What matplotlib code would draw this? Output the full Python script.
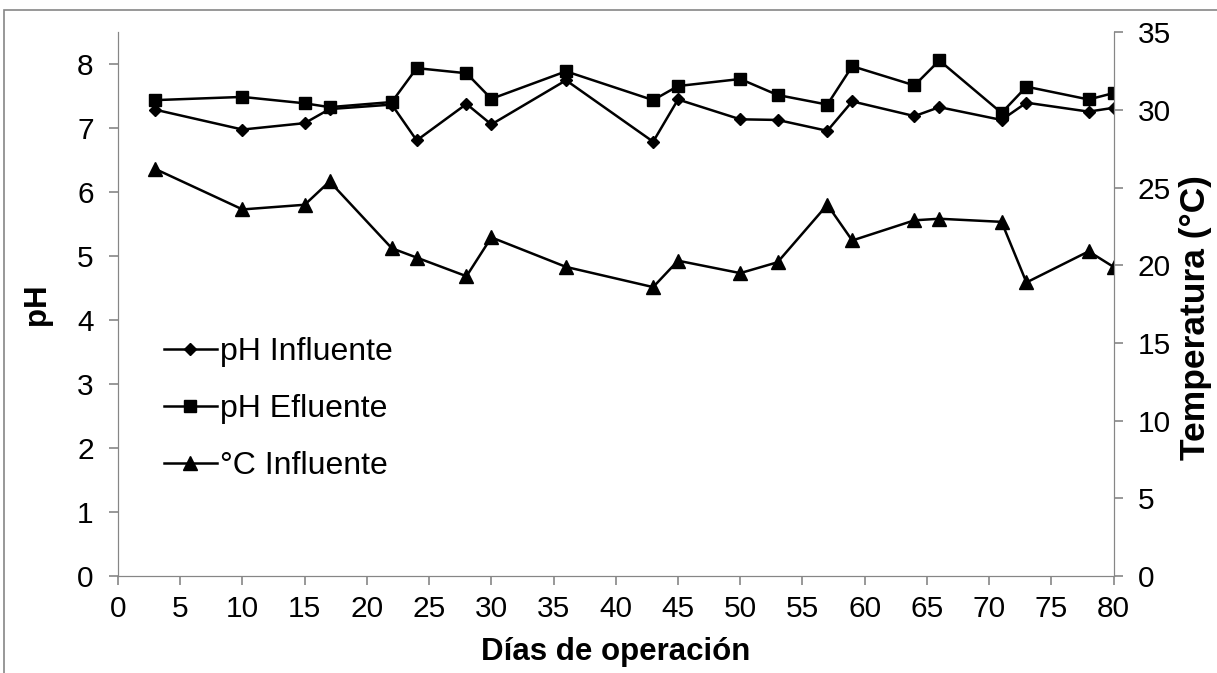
import matplotlib
matplotlib.use("Agg")
import matplotlib.pyplot as plt
from matplotlib.patches import Rectangle

plt.rcParams['font.family'] = ['Liberation Sans', 'DejaVu Sans']

# datos
dias = [3, 10, 15, 17, 22, 24, 28, 30, 36, 43, 45, 50, 53, 57, 59, 64, 66, 71, 73, 78, 80]
ph_influente = [7.29, 6.98, 7.08, 7.30, 7.37, 6.81, 7.38, 7.06, 7.75, 6.79, 7.45,
                7.14, 7.13, 6.96, 7.42, 7.19, 7.33, 7.13, 7.40, 7.26, 7.32]
ph_efluente = [7.44, 7.49, 7.39, 7.33, 7.41, 7.94, 7.86, 7.46, 7.89, 7.44, 7.66,
               7.77, 7.52, 7.37, 7.97, 7.67, 8.06, 7.24, 7.65, 7.45, 7.55]
temp_influente = [26.2, 23.6, 23.9, 25.4, 21.1, 20.5, 19.3, 21.8, 19.9, 18.6, 20.3,
                  19.5, 20.2, 23.9, 21.6, 22.9, 23.0, 22.8, 18.9, 20.9, 19.9]

gris = '#868686'
fs_tick = 21.5
fs_lab = 22.5
fs_leg = 23

fig = plt.figure(figsize=(12.17, 6.73), dpi=100)
ax = fig.add_axes([0.097, 0.144, 0.818, 0.808])
ax2 = ax.twinx()

l1, = ax.plot(dias, ph_influente, color='black', lw=1.8, marker='D', ms=6.5, label='pH Influente')
l2, = ax.plot(dias, ph_efluente, color='black', lw=1.8, marker='s', ms=8.5, label='pH Efluente')
l3, = ax2.plot(dias, temp_influente, color='black', lw=1.8, marker='^', ms=9.5, label='°C Influente')

ax.set_xlim(0, 80)
ax.set_ylim(0, 8.5)
ax2.set_ylim(0, 35)
ax.set_xticks(range(0, 81, 5))
ax.set_yticks(range(0, 9))
ax2.set_yticks(range(0, 36, 5))

for a in (ax, ax2):
    for s in a.spines.values():
        s.set_color(gris)
    a.spines['top'].set_visible(False)
    a.tick_params(colors=gris, labelcolor='black', labelsize=fs_tick, length=6.5, width=1.2)
ax.tick_params(axis='x', pad=7)
ax.tick_params(axis='y', pad=11)
ax2.tick_params(axis='y', pad=11)

ax.set_xlabel('Días de operación', fontsize=fs_lab, fontweight='bold', labelpad=10)
ax.set_ylabel('pH', fontsize=fs_lab, fontweight='bold', labelpad=18)
ax2.set_ylabel('Temperatura (°C)', fontsize=25.5, fontweight='bold', labelpad=6)
ax2.yaxis.label.set_y(0.475)

ax.legend(handles=[l1, l2, l3], loc='center left', bbox_to_anchor=(0.046, 0.307),
          frameon=False, fontsize=fs_leg, handlelength=1.65, handletextpad=0.12,
          labelspacing=0.85, borderpad=0, borderaxespad=0)

# borde del area del grafico
fig.patches.append(Rectangle((4 / 1217, -0.05), 1.2, 1 - 10 / 673 + 0.05,
                             transform=fig.transFigure, fill=False,
                             edgecolor=gris, lw=1.2))

fig.savefig('out.png', dpi=100)
